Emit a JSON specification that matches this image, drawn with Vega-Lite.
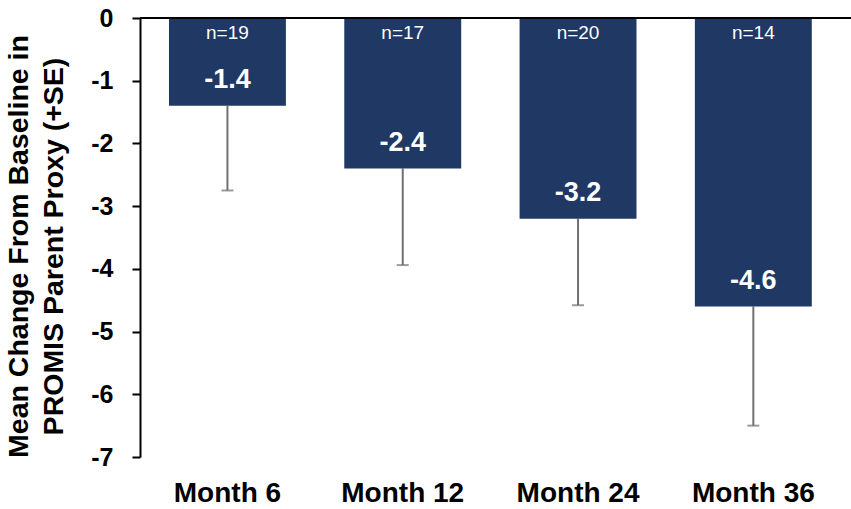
{
  "$schema": "https://vega.github.io/schema/vega-lite/v6.json",
  "width": 711,
  "height": 439,
  "autosize": {"type": "none"},
  "padding": {"left": 140, "top": 18, "right": 0, "bottom": 52},
  "background": "white",
  "config": {
    "view": {"stroke": null},
    "font": "Liberation Sans",
    "axis": {"labelFont": "Liberation Sans", "titleFont": "Liberation Sans"}
  },
  "data": {
    "values": [
      {"month": "Month 6", "mean": -1.4, "label": "-1.4", "seEnd": -2.75, "n": "n=19"},
      {"month": "Month 12", "mean": -2.4, "label": "-2.4", "seEnd": -3.94, "n": "n=17"},
      {"month": "Month 24", "mean": -3.2, "label": "-3.2", "seEnd": -4.58, "n": "n=20"},
      {"month": "Month 36", "mean": -4.6, "label": "-4.6", "seEnd": -6.5, "n": "n=14"}
    ]
  },
  "encoding": {
    "x": {
      "field": "month",
      "type": "nominal",
      "sort": null,
      "title": null,
      "scale": {"paddingInner": 0.333, "paddingOuter": 0.1945, "align": 0.425},
      "axis": {
        "orient": "bottom",
        "domain": false,
        "ticks": false,
        "labelAngle": 0,
        "labelFontSize": 28,
        "labelFontWeight": "bold",
        "labelColor": "black",
        "labelPadding": 22
      }
    }
  },
  "layer": [
    {
      "mark": {"type": "rule", "color": "#707070", "strokeWidth": 2},
      "encoding": {
        "y": {"field": "mean", "type": "quantitative"},
        "y2": {"field": "seEnd"}
      }
    },
    {
      "mark": {"type": "tick", "color": "#707070", "thickness": 2, "size": 12, "orient": "horizontal"},
      "encoding": {
        "y": {"field": "seEnd", "type": "quantitative"}
      }
    },
    {
      "mark": {"type": "bar", "color": "#1f3864"},
      "encoding": {
        "y": {
          "field": "mean",
          "type": "quantitative",
          "scale": {"domain": [-7, 0], "nice": false},
          "title": ["Mean Change From Baseline in", "PROMIS Parent Proxy (+SE)"],
          "axis": {
            "values": [0, -1, -2, -3, -4, -5, -6, -7],
            "labelExpr": "toString(datum.value)",
            "grid": false,
            "domainColor": "black",
            "domainWidth": 2,
            "tickColor": "black",
            "tickWidth": 2,
            "tickSize": 8,
            "labelFontSize": 25,
            "labelFontWeight": "bold",
            "labelColor": "black",
            "labelPadding": 19,
            "titleFontSize": 28.5,
            "titleFontWeight": "bold",
            "titleColor": "black",
            "titleLineHeight": 35,
            "titleBaseline": "alphabetic",
            "titleAlign": "center",
            "titleX": -113,
            "titleY": 228
          }
        },
        "y2": {"datum": 0}
      }
    },
    {
      "mark": {"type": "rule", "color": "black", "strokeWidth": 2},
      "encoding": {"y": {"datum": 0}, "x": null}
    },
    {
      "mark": {"type": "text", "color": "white", "fontSize": 19, "baseline": "alphabetic", "dy": 20.7},
      "encoding": {
        "y": {"datum": 0},
        "text": {"field": "n"}
      }
    },
    {
      "mark": {"type": "text", "color": "white", "fontSize": 27, "fontWeight": "bold", "baseline": "alphabetic", "dy": -17.5},
      "encoding": {
        "y": {"field": "mean", "type": "quantitative"},
        "text": {"field": "label"}
      }
    }
  ]
}
